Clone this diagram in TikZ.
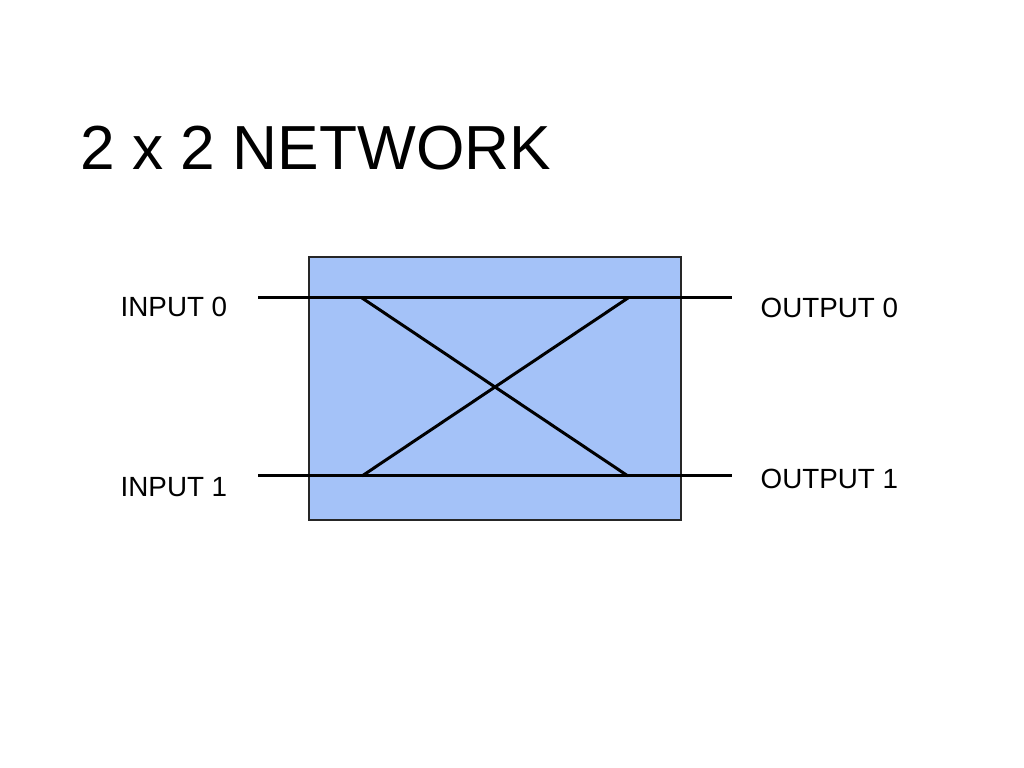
\documentclass[tikz,border=0pt]{standalone}
\usepackage{fontspec}
\setmainfont{Liberation Sans}
\usepackage{tikz}
\definecolor{switchblue}{RGB}{164,194,248}
\tikzset{wire/.style={line width=0.85pt},
	portlabel/.style={anchor=base west,inner sep=0pt,font=\fontsize{7.9pt}{9pt}\selectfont}}

\begin{document}
\begin{tikzpicture}[x=0.01cm,y=-0.01cm]
\useasboundingbox (0,0) rectangle (1024,768);
\node[anchor=base west,inner sep=0pt,font=\fontsize{17.7pt}{20pt}\selectfont] (title) at (80,170) {2 x 2 NETWORK};
\node[draw=black!85,line width=0.45pt,fill=switchblue,minimum width=3.72cm,minimum height=2.63cm,inner sep=0pt] (box) at (495,388.5) {};
\coordinate (in0) at (258,298); \coordinate (out0) at (732,298);
\coordinate (in1) at (258,476); \coordinate (out1) at (732,476);
\coordinate (a) at (362,298); \coordinate (b) at (628,298);
\coordinate (c) at (362,476); \coordinate (d) at (628,476);
\draw[wire] (in0) -- (out0);
\draw[wire] (in1) -- (out1);
\draw[wire] (a) -- (d);
\draw[wire] (c) -- (b);
\node[portlabel] (lin0) at (120,317) {INPUT 0};
\node[portlabel] (lin1) at (120,497) {INPUT 1};
\node[portlabel] (lout0) at (760,318) {OUTPUT 0};
\node[portlabel] (lout1) at (760,489) {OUTPUT 1};
\end{tikzpicture}
\end{document}
